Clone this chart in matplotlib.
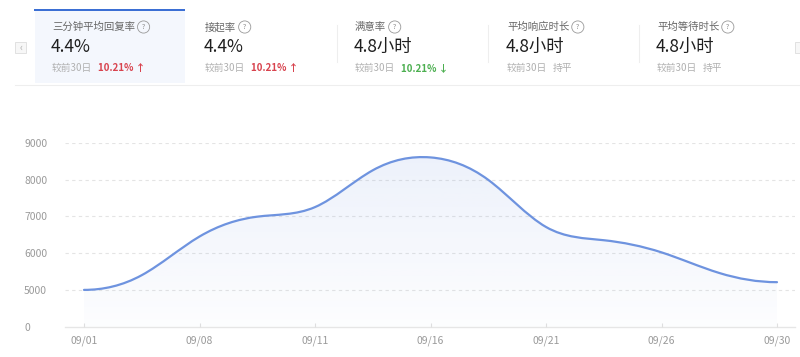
import numpy as np
import matplotlib
matplotlib.use("Agg")
import matplotlib.pyplot as plt
from matplotlib.path import Path
from matplotlib.patches import PathPatch, Rectangle

plt.rcParams['font.family'] = ['Noto Sans CJK SC', 'DejaVu Sans']

# ---------------- data ----------------
card_titles = ["三分钟平均回复率", "接起率", "满意率", "平均响应时长", "平均等待时长"]
card_values = ["4.4%", "4.4%", "4.8小时", "4.8小时", "4.8小时"]
card_changes = ["10.21% ↑", "10.21% ↑", "10.21% ↓", "持平", "持平"]
card_trend = ["up", "up", "down", "flat", "flat"]
compare_label = "较前30日"

x_labels = ["09/01", "09/08", "09/11", "09/16", "09/21", "09/26", "09/30"]
# values at each labelled date and halfway between them
x_pos = [0, 0.5, 1, 1.5, 2, 2.5, 3, 3.5, 4, 4.5, 5, 5.5, 6]
y_vals = [5000, 5400, 6450, 6990, 7250, 8250, 8600, 7990, 6710, 6350, 6020, 5460, 5210]
y_ticks = [0, 5000, 6000, 7000, 8000, 9000]

# ---------------- figure ----------------
W, H = 800, 357
fig = plt.figure(figsize=(W / 100, H / 100), dpi=100)
fig.patch.set_facecolor("white")

# header overlay (pixel coordinates)
hd = fig.add_axes([0, 0, 1, 1], zorder=0)
hd.set_xlim(0, W)
hd.set_ylim(H, 0)
hd.axis("off")

hd.add_patch(Rectangle((35, 10), 150, 73, fc="#f4f7fd", ec="none"))
hd.add_patch(Rectangle((34, 8.8), 151, 2.4, fc="#3b6fd4", ec="none"))
hd.plot([15, 800], [85, 85], color="#eeeeee", lw=0.8)
for sx in [337, 488, 639]:
    hd.plot([sx, sx], [25, 62], color="#eeeeee", lw=0.8)

# arrow buttons
hd.add_patch(Rectangle((15, 42), 11, 11, fc="#f7f7f7", ec="#dddddd", lw=0.6))
hd.text(20.5, 47.3, "‹", ha="center", va="center", fontsize=7, color="#aaaaaa")
hd.add_patch(Rectangle((795, 42), 11, 11, fc="#f7f7f7", ec="#dddddd", lw=0.6))

card_x = [52, 205, 355, 507, 657]
for i in range(5):
    cx = card_x[i]
    t = hd.text(cx, 27, card_titles[i], ha="left", va="center", fontsize=7.5, color="#666666")
    hd.annotate("?", xy=(1, 0.5), xycoords=t, xytext=(5, 0), textcoords="offset points",
                ha="left", va="center", fontsize=5, color="#888888",
                bbox=dict(boxstyle="circle,pad=0.3", fc="none", ec="#999999", lw=0.6))
    hd.text(cx - 1, 47, card_values[i], ha="left", va="center", fontsize=12.5, color="#1f1f1f",
            fontweight="medium")
    s = hd.text(cx, 68, compare_label, ha="left", va="center", fontsize=7, color="#b0b0b0")
    if card_trend[i] == "up":
        col, fw = "#d8434e", "bold"
    elif card_trend[i] == "down":
        col, fw = "#4caf50", "bold"
    else:
        col, fw = "#b0b0b0", "normal"
    hd.annotate(card_changes[i], xy=(1, 0.5), xycoords=s, xytext=(4, 0), textcoords="offset points",
                ha="left", va="center", fontsize=7, color=col, fontweight=fw)

# ---------------- chart ----------------
left_px, right_px = 65, 795
bottom_px, top_px = 326.7, 142.7
ax = fig.add_axes([left_px / W, (H - bottom_px) / H, (right_px - left_px) / W,
                   (bottom_px - top_px) / H], zorder=1)
ax.patch.set_alpha(0)


def fwd(v):
    v = np.asarray(v, dtype=float)
    return np.where(v >= 5000, (v - 4000) / 1000.0, v / 5000.0)


def inv(u):
    u = np.asarray(u, dtype=float)
    return np.where(u >= 1, u * 1000.0 + 4000, u * 5000.0)


ax.set_yscale("function", functions=(fwd, inv))
ax.set_ylim(0, 9000)
unit = (777 - 84) / 6
ax.set_xlim(-(84 - left_px) / unit, 6 + (right_px - 777) / unit)

for v in y_ticks[1:]:
    ax.axhline(v, color="#e4e4e4", lw=0.8, ls=(0, (3, 3)), zorder=1)
ax.axhline(0, color="#e6e6e6", lw=1.0, zorder=1, clip_on=False)

# smooth line: clamped cubic spline (flat ends) expressed as Bezier segments
X = np.asarray(x_pos, dtype=float)
Y = np.asarray(y_vals, dtype=float)
n = len(X)
h = np.diff(X)
A = np.zeros((n, n))
b = np.zeros(n)
A[0, 0] = 1.0
A[-1, -1] = 1.0
for i in range(1, n - 1):
    A[i, i - 1] = 1.0 / h[i - 1]
    A[i, i] = 2.0 / h[i - 1] + 2.0 / h[i]
    A[i, i + 1] = 1.0 / h[i]
    b[i] = 3.0 * ((Y[i] - Y[i - 1]) / h[i - 1] ** 2 + (Y[i + 1] - Y[i]) / h[i] ** 2)
m = np.linalg.solve(A, b)

verts = [(X[0], Y[0])]
codes = [Path.MOVETO]
for i in range(n - 1):
    d = h[i] / 3.0
    verts += [(X[i] + d, Y[i] + m[i] * d), (X[i + 1] - d, Y[i + 1] - m[i + 1] * d),
              (X[i + 1], Y[i + 1])]
    codes += [Path.CURVE4] * 3
line_path = Path(verts, codes)
fill_path = Path(verts + [(X[-1], 0), (X[0], 0), (X[0], Y[0])],
                 codes + [Path.LINETO, Path.LINETO, Path.CLOSEPOLY])

fill_patch = PathPatch(fill_path, fc="none", ec="none", transform=ax.transData)
ax.add_patch(fill_patch)
grad = np.linspace(0.13, 0.015, 256).reshape(-1, 1)
rgba = np.zeros((256, 1, 4))
rgba[..., 0] = 107 / 255
rgba[..., 1] = 143 / 255
rgba[..., 2] = 222 / 255
rgba[..., 3] = grad
im = ax.imshow(rgba, extent=[0, 1, 0, 1], transform=ax.transAxes, aspect="auto",
               interpolation="bilinear", zorder=2)
im.set_clip_path(fill_patch)

ax.add_patch(PathPatch(line_path, fc="none", ec="#6e93df", lw=1.6, zorder=3,
                       transform=ax.transData, capstyle="round"))

for s in ax.spines.values():
    s.set_visible(False)

ax.set_xticks(range(len(x_labels)))
ax.set_xticklabels(x_labels)
ax.set_yticks(y_ticks)
ax.set_yticklabels([str(v) for v in y_ticks])
ax.tick_params(axis="x", direction="in", length=3, width=0.8, color="#e0e0e0",
               labelsize=7.5, labelcolor="#9a9a9a", pad=6)
ax.tick_params(axis="y", length=0, labelsize=7.5, labelcolor="#9a9a9a", pad=29.5)
for lab in ax.get_yticklabels():
    lab.set_horizontalalignment("left")

fig.savefig("out.png", dpi=100, facecolor="white")
